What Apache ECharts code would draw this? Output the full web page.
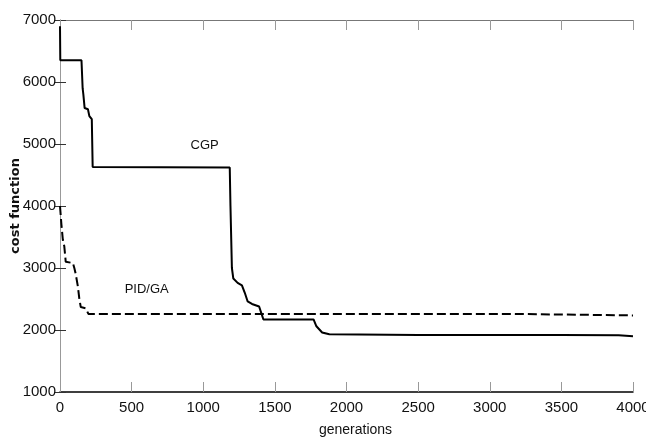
<!DOCTYPE html>
<html>
<head>
<meta charset="utf-8">
<script src="https://cdn.jsdelivr.net/npm/echarts@6/dist/echarts.min.js"></script>
<style>
  html, body { margin: 0; padding: 0; background: #fff; }
  #chart { width: 646px; height: 439px; }
</style>
</head>
<body>
<div id="chart"></div>
<script>
const echarts = window.echarts

// CGP curve (generation, cost)
const cgpGen = [0, 2, 150, 158, 163, 172, 195, 205, 222, 228, 240, 1185, 1190, 1200, 1210, 1240, 1270, 1290, 1310, 1340, 1390, 1410, 1420, 1770, 1790, 1830, 1880, 2500, 3500, 3900, 4000]
const cgpCost = [6900, 6350, 6350, 5900, 5800, 5580, 5560, 5450, 5400, 4630, 4620, 4620, 4000, 3000, 2830, 2760, 2720, 2600, 2460, 2420, 2380, 2240, 2170, 2170, 2060, 1960, 1930, 1920, 1920, 1915, 1900]

// PID/GA curve (generation, cost)
const pidGen = [0, 10, 20, 30, 40, 90, 100, 110, 125, 135, 145, 180, 198, 3140, 3150, 4000]
const pidCost = [4000, 3700, 3450, 3350, 3100, 3080, 3000, 2900, 2700, 2500, 2370, 2350, 2260, 2260, 2235, 2235]

const xTicks = [0, 500, 1000, 1500, 2000, 2500, 3000, 3500, 4000]
const yTicks = [1000, 2000, 3000, 4000, 5000, 6000, 7000]

const labelFont = 'Liberation Sans Narrow, Liberation Sans, Arial'

function pairs(xs, ys) {
  return xs.map((x, i) => [x, ys[i]])
}

const plain = v => String(v)

const chart = echarts.init(document.getElementById('chart'))

const option = {
  animation: false,
  backgroundColor: '#fff',
  grid: { left: 60, right: 13, top: 20, bottom: 47, outerBoundsMode: 'none', containLabel: false },
  xAxis: [
    {
      type: 'value', min: xTicks[0], max: xTicks[xTicks.length - 1], interval: 500,
      name: 'generations', nameLocation: 'middle', nameGap: 31, nameMoveOverlap: false,
      nameTextStyle: { fontFamily: labelFont, fontSize: 14, color: '#111', padding: [0, 0, 0, 18] },
      axisLine: { lineStyle: { color: '#000', width: 1.5 } },
      axisTick: { inside: true, length: 10, lineStyle: { color: '#999' } },
      axisLabel: { fontFamily: labelFont, fontSize: 15, color: '#111', margin: 8, formatter: plain },
      splitLine: { show: false }
    },
    {
      type: 'value', position: 'top', min: 0, max: 4000, interval: 500,
      axisLine: { show: true, lineStyle: { color: '#777' } },
      axisTick: { inside: true, length: 10, lineStyle: { color: '#999' } },
      axisLabel: { show: false },
      splitLine: { show: false }
    }
  ],
  yAxis: [
    {
      type: 'value', min: yTicks[0], max: yTicks[yTicks.length - 1], interval: 1000,
      name: 'cost function', nameLocation: 'middle', nameGap: 38, nameMoveOverlap: false,
      nameTextStyle: { fontFamily: 'DejaVu Sans, Liberation Sans', fontSize: 13, fontWeight: 'bold', color: '#111' },
      axisLine: { show: true, lineStyle: { color: '#999' } },
      axisTick: { show: true, inside: true, length: 6, lineStyle: { color: '#333' } },
      axisLabel: { fontFamily: labelFont, fontSize: 15, color: '#111', margin: 4, formatter: plain },
      splitLine: { show: false }
    },
    {
      type: 'value', position: 'right', min: 1000, max: 7000, interval: 1000,
      axisLine: { show: true, lineStyle: { color: '#999' } },
      axisTick: { show: true, inside: true, length: 6, lineStyle: { color: '#333' } },
      axisLabel: { show: false },
      splitLine: { show: false }
    }
  ],
  series: [
    {
      name: 'CGP', type: 'line', showSymbol: false,
      data: pairs(cgpGen, cgpCost),
      lineStyle: { color: '#000', width: 2 },
      markPoint: {
        symbol: 'rect', symbolSize: 0,
        label: { show: true, formatter: 'CGP', fontFamily: labelFont, fontSize: 13, color: '#111' },
        data: [{ coord: [1010, 4970] }]
      }
    },
    {
      name: 'PID/GA', type: 'line', showSymbol: false,
      data: pairs(pidGen, pidCost),
      lineStyle: { color: '#000', width: 2, type: [9, 4] },
      markPoint: {
        symbol: 'rect', symbolSize: 0,
        label: { show: true, formatter: 'PID/GA', fontFamily: labelFont, fontSize: 13, color: '#111' },
        data: [{ coord: [605, 2650] }]
      }
    }
  ]
}

chart.setOption(option)
</script>
</body>
</html>
